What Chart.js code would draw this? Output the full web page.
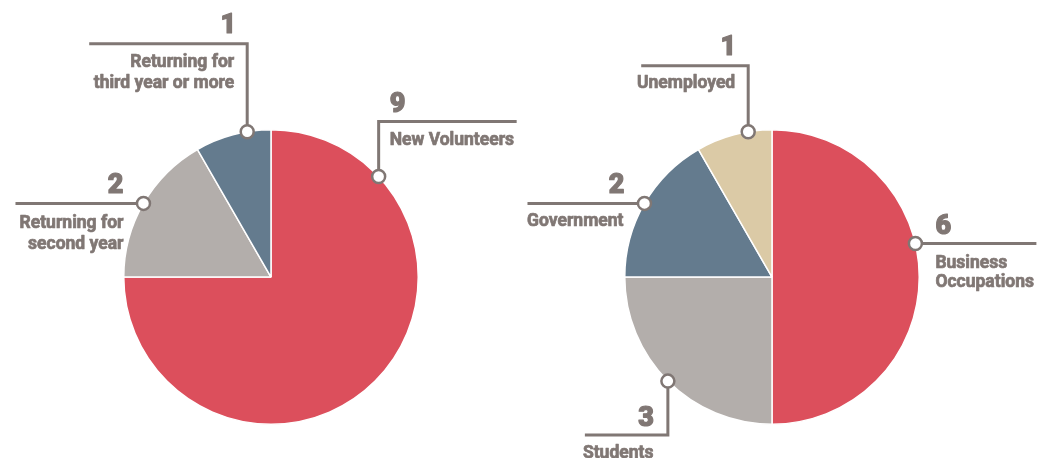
<!DOCTYPE html>
<html>
<head>
<meta charset="utf-8">
<script src="https://cdn.jsdelivr.net/npm/chart.js@4.4.0/dist/chart.umd.min.js"></script>
<style>
  html, body { margin: 0; padding: 0; background: #fff; }
  #wrap { position: relative; width: 1045px; height: 458px; overflow: hidden; }
  .box { position: absolute; top: 0; height: 458px; }
</style>
</head>
<body>
<div id="wrap">
  <div class="box" style="left:0;width:542px"><canvas id="volChart"></canvas></div>
  <div class="box" style="left:500px;width:545px"><canvas id="jobChart"></canvas></div>
</div>
<script>
// data
const volLabels = [['New Volunteers'], ['Returning for', 'second year'], ['Returning for', 'third year or more']];
const volValues = [9, 2, 1];
const jobLabels = [['Business', 'Occupations'], ['Students'], ['Government'], ['Unemployed']];
const jobValues = [6, 3, 2, 1];

const RED = '#DC4F5C', GREY = '#B3AEAB', SLATE = '#647B8E', SAND = '#DBCAA6';
const INK = '#807774';

// callout layout: where on the slice edge the dot sits (fraction of the arc),
// leader path relative to the dot, and text offsets relative to the dot
const calloutLayout = {
  volChart: [
    { index: 0, at: 0.174, path: [[0, -55], [138, -55]], num: [11, -65, 'left'], label: [11, -32, 'left'], lh: 21 },
    { index: 1, at: 0.5, path: [[-128, 0]], num: [-20, -10, 'right'], label: [-20, 25, 'right'], lh: 21 },
    { index: 2, at: 0.69, path: [[0, -88], [-158, -88]], num: [-11, -99, 'right'], label: [-13, -65, 'right'], lh: 21 }
  ],
  jobChart: [
    { index: 0, at: 0.427, path: [[121, 0]], num: [20, -10, 'left'], label: [20, 24, 'left'], lh: 19 },
    { index: 1, at: 0.5, path: [[0, 54], [-83, 54]], num: [-14, 45, 'right'], label: [-85, 77, 'left'], lh: 19 },
    { index: 2, at: 0.5, path: [[-117, 0]], num: [-20, -10, 'right'], label: [-21, 23, 'right'], lh: 19 },
    { index: 3, at: 0.69, path: [[0, -66], [-107, -66]], num: [-12, -77, 'right'], label: [-13, -44, 'right'], lh: 19 }
  ]
};

// draw text a bit heavier than plain bold
function heavyText(ctx, txt, x, y, weight) {
  ctx.lineWidth = weight;
  ctx.lineJoin = 'round';
  ctx.strokeText(txt, x, y);
  ctx.fillText(txt, x, y);
}

const calloutPlugin = {
  id: 'callouts',
  afterDatasetsDraw(chart) {
    const items = calloutLayout[chart.canvas.id] || [];
    const ctx = chart.ctx;
    const meta = chart.getDatasetMeta(0);
    const ds = chart.data.datasets[0];
    ctx.save();
    items.forEach(c => {
      const arc = meta.data[c.index];
      const a = arc.startAngle + c.at * (arc.endAngle - arc.startAngle);
      const x0 = arc.x + arc.outerRadius * Math.cos(a);
      const y0 = arc.y + arc.outerRadius * Math.sin(a);

      // leader line
      ctx.strokeStyle = INK;
      ctx.lineWidth = 3;
      ctx.lineJoin = 'miter';
      ctx.beginPath();
      ctx.moveTo(x0, y0);
      c.path.forEach(p => ctx.lineTo(x0 + p[0], y0 + p[1]));
      ctx.stroke();

      // dot
      ctx.beginPath();
      ctx.arc(x0, y0, 6.5, 0, Math.PI * 2);
      ctx.fillStyle = '#fff';
      ctx.fill();
      ctx.lineWidth = 2.5;
      ctx.stroke();

      // value
      ctx.fillStyle = INK;
      ctx.textBaseline = 'alphabetic';
      ctx.font = '900 27px Roboto';
      ctx.textAlign = c.num[2];
      heavyText(ctx, String(ds.data[c.index]), x0 + c.num[0], y0 + c.num[1], 1.2);

      // label
      ctx.font = 'bold 17.5px Roboto';
      ctx.textAlign = c.label[2];
      const lines = chart.data.labels[c.index];
      lines.forEach((ln, k) => {
        heavyText(ctx, ln, x0 + c.label[0], y0 + c.label[1] + k * c.lh, 0.7);
      });
    });
    ctx.restore();
  }
};

function pieOptions(pad) {
  return {
    responsive: true,
    maintainAspectRatio: false,
    animation: false,
    events: [],
    layout: { padding: pad },
    plugins: {
      legend: { display: false },
      tooltip: { enabled: false }
    }
  };
}

new Chart(document.getElementById('volChart'), {
  type: 'pie',
  data: {
    labels: volLabels,
    datasets: [{
      data: volValues,
      backgroundColor: [RED, GREY, SLATE],
      borderColor: '#fff',
      borderWidth: 1.5
    }]
  },
  options: pieOptions({ left: 123, right: 123, top: 129, bottom: 33 }),
  plugins: [calloutPlugin]
});

new Chart(document.getElementById('jobChart'), {
  type: 'pie',
  data: {
    labels: jobLabels,
    datasets: [{
      data: jobValues,
      backgroundColor: [RED, GREY, SLATE, SAND],
      borderColor: '#fff',
      borderWidth: 1.5
    }]
  },
  options: pieOptions({ left: 124, right: 125, top: 129, bottom: 33 }),
  plugins: [calloutPlugin]
});
</script>
</body>
</html>
